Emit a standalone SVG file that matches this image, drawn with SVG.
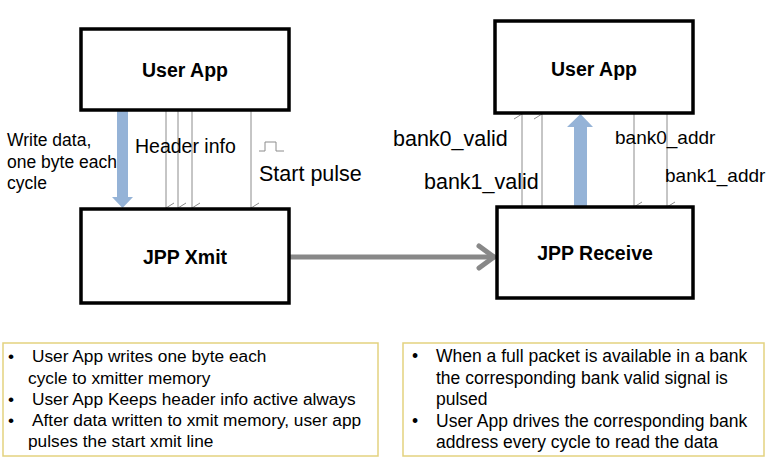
<svg xmlns="http://www.w3.org/2000/svg" width="770" height="459" viewBox="0 0 770 459">
<style>
.box{fill:#fff;stroke:#000;stroke-width:3.5}
.note{fill:#fff;stroke:#E3D27F;stroke-width:1.5}
.t{font-family:"Liberation Sans",Arial,sans-serif;fill:#000}
.b{font-weight:bold;font-size:19.5px}
.thin{stroke:#8c8c8c;stroke-width:1;fill:none}
.blue{fill:#95B3D7}
</style>
<defs>
<marker id="v" markerWidth="12" markerHeight="12" viewBox="0 0 12 12" refX="6" refY="11" orient="auto-start-reverse" markerUnits="userSpaceOnUse">
<path d="M1,3 L6,11 L11,3" fill="none" stroke="#8c8c8c" stroke-width="1"/>
</marker>
<marker id="big" markerWidth="30" markerHeight="30" viewBox="0 0 30 30" refX="26" refY="15" orient="auto" markerUnits="userSpaceOnUse">
<path d="M10,4 L25,15 L10,26" fill="none" stroke="#888" stroke-width="5" stroke-linecap="round" stroke-linejoin="round"/>
</marker>
</defs>
<g id="connectors">
<line x1="289" y1="257" x2="495" y2="257" stroke="#888" stroke-width="5" marker-end="url(#big)"/>
<polygon class="blue" points="117,111 128,111 128,197 133,197 122.5,208 112,197 117,197"/>
<line class="thin" x1="166" y1="111" x2="166" y2="208" marker-end="url(#v)"/>
<line class="thin" x1="178" y1="111" x2="178" y2="208" marker-end="url(#v)"/>
<line class="thin" x1="192" y1="111" x2="192" y2="208" marker-end="url(#v)"/>
<line class="thin" x1="251" y1="111" x2="251" y2="208" marker-end="url(#v)"/>
<path class="thin" d="M259,151 H265 V142 H276 V151 H284" stroke="#777"/>
<line class="thin" x1="522" y1="207" x2="522" y2="114" marker-end="url(#v)"/>
<line class="thin" x1="542" y1="207" x2="542" y2="114" marker-end="url(#v)"/>
<polygon class="blue" points="574,207 587,207 587,127 593,127 580.5,114 567,127 574,127"/>
<line class="thin" x1="634" y1="114" x2="634" y2="207" marker-end="url(#v)"/>
<line class="thin" x1="667" y1="114" x2="667" y2="207" marker-end="url(#v)"/>
</g>
<g id="user-app-left">
<rect class="box" x="81" y="29" width="208" height="81"/>
<text class="t b" x="185" y="77" text-anchor="middle">User App</text>
</g>
<g id="jpp-xmit">
<rect class="box" x="81" y="209" width="208" height="94"/>
<text class="t b" x="185" y="264" text-anchor="middle">JPP Xmit</text>
</g>
<g id="user-app-right">
<rect class="box" x="495" y="21" width="198" height="92"/>
<text class="t b" x="594" y="76" text-anchor="middle">User App</text>
</g>
<g id="jpp-receive">
<rect class="box" x="497" y="207" width="196" height="91"/>
<text class="t b" x="595" y="260" text-anchor="middle" font-size="21">JPP Receive</text>
</g>
<g id="labels">
<text class="t" x="7" y="146" font-size="17.5">Write data,</text>
<text class="t" x="7" y="168" font-size="17.5">one byte each</text>
<text class="t" x="7" y="189" font-size="17.5">cycle</text>
<text class="t" x="135" y="153" font-size="19.5">Header info</text>
<text class="t" x="259" y="181" font-size="21.5">Start pulse</text>
<text class="t" x="393" y="146" font-size="21.5">bank0_valid</text>
<text class="t" x="424" y="189" font-size="21.5">bank1_valid</text>
<text class="t" x="615" y="144" font-size="19">bank0_addr</text>
<text class="t" x="665" y="182" font-size="19">bank1_addr</text>
</g>
<g id="note-left">
<rect class="note" x="3" y="343" width="375" height="113"/>
<g class="t" font-size="17.3">
<text x="8" y="362">•</text><text x="32" y="362">User App writes one byte each</text>
<text x="28" y="384">cycle to xmitter memory</text>
<text x="8" y="405">•</text><text x="32" y="405">User App Keeps header info active always</text>
<text x="8" y="426">•</text><text x="32" y="426">After data written to xmit memory, user app</text>
<text x="28" y="447">pulses the start xmit line</text>
</g>
</g>
<g id="note-right">
<rect class="note" x="403" y="343" width="361" height="113"/>
<g class="t" font-size="17.5">
<text x="412" y="362">•</text><text x="436" y="362">When a full packet is available in a bank</text>
<text x="436" y="384">the corresponding bank valid signal is</text>
<text x="436" y="405">pulsed</text>
<text x="412" y="427">•</text><text x="436" y="427">User App drives the corresponding bank</text>
<text x="436" y="448">address every cycle to read the data</text>
</g>
</g>
</svg>
